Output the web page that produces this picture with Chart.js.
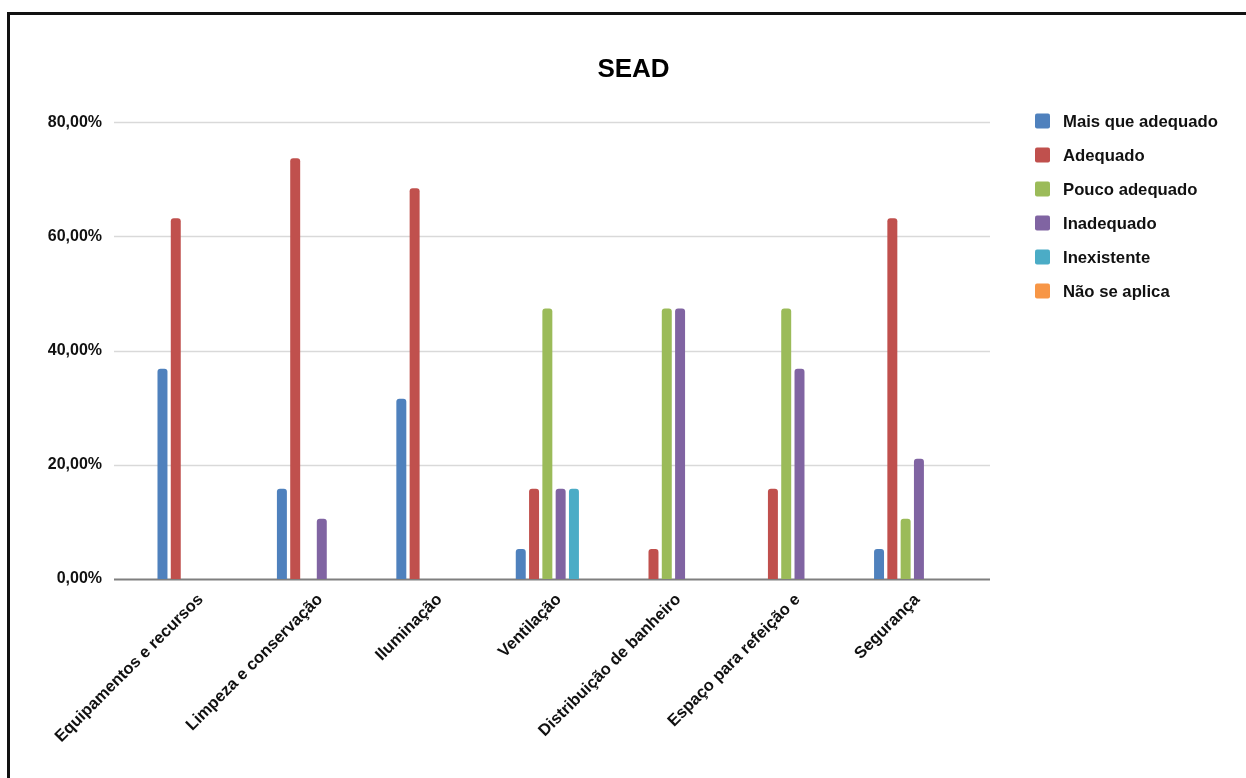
<!DOCTYPE html>
<html>
<head>
<meta charset="utf-8">
<title>SEAD</title>
<script src="https://cdn.jsdelivr.net/npm/chart.js@4"></script>
<style>
  html, body { margin: 0; padding: 0; background: #fff; overflow: hidden; }
  #frame { position: absolute; left: 7px; top: 12px; width: 1300px; height: 900px;
           border-left: 3px solid #111; border-top: 3px solid #111; }
  #grafico { position: absolute; left: 0; top: 0; }
</style>
</head>
<body>
<div id="frame"></div>
<canvas id="grafico" width="1246" height="778"></canvas>
<script>
const categorias = ['Equipamentos e recursos', 'Limpeza e conservação', 'Iluminação', 'Ventilação',
                    'Distribuição de banheiro', 'Espaço para refeição e', 'Segurança'];
const maisQueAdequado = [36.84, 15.79, 31.58, 5.26, 0, 0, 5.26];
const adequado        = [63.16, 73.68, 68.42, 15.79, 5.26, 15.79, 63.16];
const poucoAdequado   = [0, 0, 0, 47.37, 47.37, 47.37, 10.53];
const inadequado      = [0, 10.53, 0, 15.79, 47.37, 36.84, 21.05];
const inexistente     = [0, 0, 0, 15.79, 0, 0, 0];
const naoSeAplica     = [0, 0, 0, 0, 0, 0, 0];
const yTicks = [0, 20, 40, 60, 80];

const fonte = '"Liberation Sans", Arial, sans-serif';

const series = [
    { label: 'Mais que adequado', data: maisQueAdequado, cor: '#4f81bd' },
    { label: 'Adequado',          data: adequado,        cor: '#c0504d' },
    { label: 'Pouco adequado',    data: poucoAdequado,   cor: '#9bbb59' },
    { label: 'Inadequado',        data: inadequado,      cor: '#8064a2' },
    { label: 'Inexistente',       data: inexistente,     cor: '#4bacc6' },
    { label: 'Não se aplica',     data: naoSeAplica,     cor: '#f79646' }
];

// linhas de grade um pouco mais largas que a area das barras (como no original)
const gradePlugin = {
    id: 'grade',
    beforeDatasetsDraw(chart) {
        const { ctx, chartArea, scales } = chart;
        const x0 = chartArea.left - 22, x1 = chartArea.right + 18;
        ctx.save();
        yTicks.forEach(v => {
            const y = Math.round(scales.y.getPixelForValue(v)) + 0.5;
            ctx.beginPath();
            ctx.lineWidth = v === 0 ? 2 : 1.5;
            ctx.strokeStyle = v === 0 ? '#7f7f7f' : '#d9d9d9';
            ctx.moveTo(x0, y);
            ctx.lineTo(x1, y);
            ctx.stroke();
        });
        ctx.restore();
    }
};

// legenda desenhada na posicao do original
const legendaPlugin = {
    id: 'legenda',
    afterDraw(chart) {
        const ctx = chart.ctx;
        ctx.save();
        ctx.font = 'bold 16.7px ' + fonte;
        ctx.textBaseline = 'middle';
        chart.data.datasets.forEach((ds, i) => {
            const y = 121 + i * 34;
            ctx.fillStyle = ds.backgroundColor;
            ctx.beginPath();
            ctx.roundRect(1035, y - 7.5, 15, 15, 2);
            ctx.fill();
            ctx.fillStyle = '#111';
            ctx.fillText(ds.label, 1063, y + 1);
        });
        ctx.restore();
    }
};

const ctx = document.getElementById('grafico').getContext('2d');
new Chart(ctx, {
    type: 'bar',
    data: {
        labels: categorias,
        datasets: series.map(s => ({
            label: s.label,
            data: s.data,
            backgroundColor: s.cor,
            borderRadius: 3,
            borderSkipped: 'start',
            categoryPercentage: 0.668,
            barPercentage: 0.75
        }))
    },
    options: {
        responsive: false,
        animation: false,
        layout: { padding: { left: 30, right: 9, top: 0, bottom: 0 } },
        plugins: {
            legend: { display: false },
            tooltip: { enabled: false },
            title: {
                display: true,
                text: 'SEAD',
                color: '#000',
                font: { family: fonte, size: 26, weight: 'bold' },
                padding: { top: 54, bottom: 37 }
            }
        },
        scales: {
            x: {
                grid: { display: false },
                border: { display: false },
                ticks: {
                    autoSkip: false,
                    maxRotation: 45,
                    minRotation: 45,
                    padding: 3,
                    labelOffset: 5,
                    color: '#111',
                    font: { family: fonte, size: 16.5, weight: 'bold' }
                },
                afterFit: s => { s.height = 199; }
            },
            y: {
                min: 0,
                max: 80,
                grid: { display: false },
                border: { display: false },
                ticks: {
                    stepSize: 20,
                    padding: 26,
                    color: '#111',
                    font: { family: fonte, size: 16, weight: 'bold' },
                    callback: v => v.toFixed(2).replace('.', ',') + '%'
                },
                afterFit: s => { s.width = 106; }
            },
            // espaco reservado a direita para a legenda
            espacoLegenda: {
                position: 'right',
                grid: { display: false },
                border: { display: false },
                ticks: { display: false },
                afterFit: s => { s.width = 265; }
            }
        }
    },
    plugins: [gradePlugin, legendaPlugin]
});
</script>
</body>
</html>
